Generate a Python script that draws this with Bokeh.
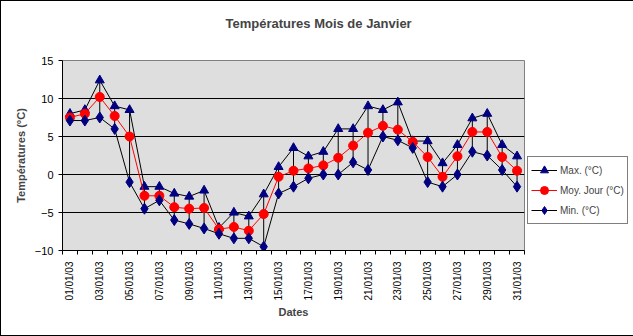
from math import pi
from bokeh.plotting import figure
from bokeh.models import (ColumnDataSource, FixedTicker, Legend, LegendItem, Range1d, Title)
from bokeh.embed import file_html
from bokeh.resources import INLINE

days = [f"{d:02d}/01/03" for d in range(1, 32)]
t_max = [8.0, 8.5, 12.4, 9.0, 8.5, -1.6, -1.6, -2.5, -2.9, -2.1,
         -7.0, -5.0, -5.5, -2.6, 1.0, 3.5, 2.4, 3.0, 6.0, 6.0,
         9.0, 8.5, 9.5, 4.4, 4.4, 1.5, 3.9, 7.4, 8.0, 3.9, 2.4]
t_moy = [7.5, 8.0, 10.2, 7.7, 5.0, -2.8, -2.8, -4.3, -4.5, -4.4,
         -7.2, -6.9, -7.4, -5.2, -0.3, 0.5, 0.8, 1.2, 2.2, 3.8,
         5.5, 6.4, 5.9, 4.3, 2.3, -0.3, 2.4, 5.6, 5.6, 2.3, 0.5]
t_min = [7.1, 7.1, 7.5, 6.0, -1.0, -4.5, -3.4, -6.0, -6.5, -7.1,
         -7.8, -8.4, -8.4, -9.5, -2.5, -1.6, -0.5, 0.0, 0.0, 1.6,
         0.6, 5.0, 4.5, 3.5, -1.0, -1.6, 0.0, 3.0, 2.5, 0.6, -1.6]
y_ticks = [-10, -5, 0, 5, 10, 15]

xs = list(range(1, len(days) + 1))
src = ColumnDataSource(dict(x=xs, tmax=t_max, tmoy=t_moy, tmin=t_min))

FONT = "Liberation Sans"

p = figure(width=631, height=334, output_backend="svg", toolbar_location=None,
           x_range=Range1d(0.5, len(days) + 0.5), y_range=Range1d(-10, 15),
           frame_width=462, frame_height=190,
           min_border_left=61, min_border_right=108, min_border_top=59, min_border_bottom=85)
p.styles = {"border": "1px solid black"}

# real title (outer), spacer title added next to the frame
p.title.text = "Températures Mois de Janvier"
p.title.align = "left"
p.title.offset = 163
p.title.text_font = FONT
p.title.text_font_size = "13px"
p.title.text_font_style = "bold"
p.title.standoff = 0

spacer = Title(text=" ", text_font=FONT, text_font_size="13px", standoff=13)
p.add_layout(spacer, "above")

p.background_fill_color = "#DEDEDE"
p.border_fill_color = "white"
p.outline_line_color = "#808080"
p.xgrid.visible = False
p.ygrid.ticker = FixedTicker(ticks=[t for t in y_ticks if -10 < t < 15])
p.ygrid.grid_line_color = "black"
p.ygrid.grid_line_width = 1

# x axis
xa = p.xaxis[0]
xa.ticker = FixedTicker(ticks=xs[::2], minor_ticks=[x - 0.5 for x in xs] + [xs[-1] + 0.5])
xa.major_label_overrides = {x: days[i] for i, x in enumerate(xs)}
xa.major_tick_in = 0
xa.major_tick_out = 0
xa.minor_tick_in = 0
xa.minor_tick_out = 4
xa.minor_tick_line_color = "black"
xa.major_label_orientation = pi / 2
xa.major_label_standoff = 7
xa.major_label_text_font = FONT
xa.major_label_text_font_size = "10px"
xa.major_label_text_color = "black"
xa.axis_line_color = "black"
xa.axis_label = "Dates"
xa.axis_label_text_font = FONT
xa.axis_label_text_font_size = "11px"
xa.axis_label_text_font_style = "bold"
xa.axis_label_standoff = 3

ya = p.yaxis[0]
ya.ticker = FixedTicker(ticks=y_ticks)
ya.minor_tick_line_color = None
ya.major_tick_in = 0
ya.major_tick_out = 4
ya.major_tick_line_color = "black"
ya.axis_line_color = "black"
ya.major_label_text_font = FONT
ya.major_label_text_font_size = "11px"
ya.major_label_text_color = "black"
ya.major_label_standoff = 5
ya.axis_label = "Températures (°C)"
ya.axis_label_text_font = FONT
ya.axis_label_text_font_size = "11px"
ya.axis_label_text_font_style = "bold"
ya.axis_label_standoff = 5

# high-low lines
p.segment(x0="x", y0="tmin", x1="x", y1="tmax", source=src, line_color="black", line_width=1)

NAVY = "#000080"
l_max = p.line("x", "tmax", source=src, line_color="black", line_width=1)
m_max = p.scatter("x", "tmax", source=src, marker="triangle", size=9,
                  fill_color=NAVY, line_color=NAVY)
l_moy = p.line("x", "tmoy", source=src, line_color="red", line_width=1)
m_moy = p.scatter("x", "tmoy", source=src, marker="circle", size=9,
                  fill_color="red", line_color="red")
l_min = p.line("x", "tmin", source=src, line_color="black", line_width=1)
m_min = p.scatter("x", "tmin", source=src, marker="diamond", size=11,
                  fill_color=NAVY, line_color=NAVY)

legend = Legend(items=[
    LegendItem(label="Max. (°C)", renderers=[l_max, m_max]),
    LegendItem(label="Moy. Jour (°C)", renderers=[l_moy, m_moy]),
    LegendItem(label="Min. (°C)", renderers=[l_min, m_min]),
], location=(3, 26))
legend.margin = 0
legend.padding = 3
legend.spacing = 0
legend.label_height = 20
legend.glyph_height = 20
legend.glyph_width = 26
legend.label_standoff = 3
legend.label_text_font = FONT
legend.label_text_font_size = "10px"
legend.border_line_color = "black"
legend.border_line_width = 1
legend.background_fill_color = "white"
legend.background_fill_alpha = 1
p.add_layout(legend, "right")

open("out.html", "w").write(file_html(p, INLINE))
